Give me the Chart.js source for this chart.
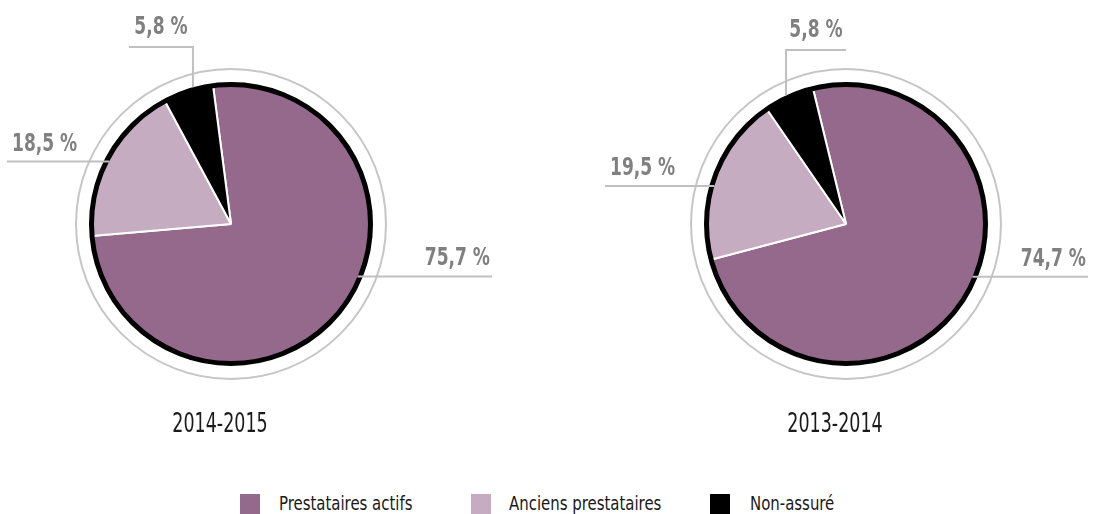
<!DOCTYPE html>
<html lang="fr">
<head>
<meta charset="utf-8">
<title>Répartition des prestataires</title>
<script src="https://cdn.jsdelivr.net/npm/chart.js@4.4.1/dist/chart.umd.min.js"></script>
<style>
  html, body { margin: 0; padding: 0; background: #fff; }
  body { width: 1097px; height: 514px; position: relative; overflow: hidden;
         font-family: 'DejaVu Sans Condensed', 'Liberation Sans', sans-serif; }
  #left-wrap  { position: absolute; left: 0;   top: 0; width: 548px; height: 448px; }
  #right-wrap { position: absolute; left: 548px; top: 0; width: 549px; height: 448px; }
  .swatch { position: absolute; top: 494px; width: 20px; height: 20px; }
  .legend-text { position: absolute; top: 491px; font-size: 20px; line-height: 24px; color: #1a1a1a;
                 white-space: nowrap; transform: scaleX(0.83); transform-origin: left center; }
</style>
</head>
<body>
<div id="left-wrap"><canvas id="chart2015"></canvas></div>
<div id="right-wrap"><canvas id="chart2014"></canvas></div>
<div id="legend"></div>

<script>
// Categories and values (percentages)
const categories = ['Prestataires actifs', 'Anciens prestataires', 'Non-assuré'];
const periods = ['2014-2015', '2013-2014'];
const values2015 = [75.7, 18.5, 5.8];
const values2014 = [74.7, 19.5, 5.8];

const sliceColors = ['#95698c', '#c5acc1', '#000000'];
const labelFont = 'bold 25px "DejaVu Sans Condensed", "Liberation Sans", sans-serif';
const titleFont = '27px "DejaVu Sans Condensed", "Liberation Sans", sans-serif';

function formatPct(v) {
  return v.toFixed(1).replace('.', ',') + ' %';
}

// Leader line settings per slice: where on the slice the line leaves the pie,
// and how far it runs from the pie centre
const leaders2015 = [
  { frac: 0.44, type: 'h', endDx: 261 },
  { frac: 0.48, type: 'h', endDx: -224 },
  { frac: 0.61, type: 'v', lineDy: -177, endDx: -102 }
];
const leaders2014 = [
  { frac: 0.47, type: 'h', endDx: 242 },
  { frac: 0.44, type: 'h', endDx: -241 },
  { frac: 0.46, type: 'v', lineDy: -174, endDx: 0 }
];

// text squeezed horizontally, the fonts at hand are wider than the design font
function narrowText(ctx, text, x, y, align, sx) {
  ctx.save();
  ctx.translate(x, y);
  ctx.scale(sx, 1);
  ctx.textAlign = align;
  ctx.fillText(text, 0, 0);
  ctx.restore();
}

// Draws the outer rings, the leader lines, value labels and the period title
const decorPlugin = {
  id: 'decor',
  afterDatasetsDraw(chart, args, opts) {
    const ctx = chart.ctx;
    const meta = chart.getDatasetMeta(0);
    const first = meta.data[0];
    const cx = first.x, cy = first.y, r = first.outerRadius;

    ctx.save();
    // thin grey ring
    ctx.beginPath();
    ctx.arc(cx, cy, r + 15, 0, Math.PI * 2);
    ctx.strokeStyle = '#c6c6c6';
    ctx.lineWidth = 2;
    ctx.stroke();

    // black outline
    ctx.beginPath();
    ctx.arc(cx, cy, r - 0.5, 0, Math.PI * 2);
    ctx.strokeStyle = '#000';
    ctx.lineWidth = 5;
    ctx.stroke();

    // leader lines + labels
    const values = chart.data.datasets[0].data;
    ctx.strokeStyle = '#c0c0c0';
    ctx.lineWidth = 2;
    ctx.fillStyle = '#808080';
    ctx.font = labelFont;
    ctx.textBaseline = 'alphabetic';
    opts.leaders.forEach((ld, i) => {
      const arc = meta.data[i];
      const a = arc.startAngle + ld.frac * (arc.endAngle - arc.startAngle);
      const text = formatPct(values[i]);
      ctx.beginPath();
      if (ld.type === 'h') {
        const ax = cx + (r - 3) * Math.cos(a);
        const ay = cy + (r - 3) * Math.sin(a);
        const ex = cx + ld.endDx;
        ctx.moveTo(ax, ay);
        ctx.lineTo(ex, ay);
        ctx.stroke();
        if (ld.endDx > 0) {
          narrowText(ctx, text, ex - 2, ay - 11, 'right', 0.76);
        } else {
          narrowText(ctx, text, ex + 5, ay - 11, 'left', 0.76);
        }
      } else {
        const ax = cx + (r + 2) * Math.cos(a);
        const ay = cy + (r + 2) * Math.sin(a);
        const ly = cy + ld.lineDy;
        const ex = cx + ld.endDx;
        ctx.moveTo(ax, ay);
        ctx.lineTo(ax, ly);
        ctx.lineTo(ex, ly);
        ctx.stroke();
        narrowText(ctx, text, (ax + ex) / 2, ly - 13, 'center', 0.76);
      }
    });

    // period title under the pie
    ctx.fillStyle = '#1a1a1a';
    ctx.font = titleFont;
    ctx.textBaseline = 'middle';
    narrowText(ctx, opts.title, cx - 11, cy + 201, 'center', 0.72);
    ctx.restore();
  }
};

function makePie(canvasId, values, rotation, leaders, title, padding) {
  const ctx = document.getElementById(canvasId).getContext('2d');
  return new Chart(ctx, {
    type: 'pie',
    data: {
      labels: categories,
      datasets: [{
        data: values,
        backgroundColor: sliceColors,
        borderColor: '#ffffff',
        borderWidth: 2
      }]
    },
    options: {
      responsive: true,
      maintainAspectRatio: false,
      animation: false,
      rotation: rotation,
      radius: 140,
      layout: { padding: padding },
      plugins: {
        legend: { display: false },
        tooltip: { enabled: false },
        decor: { leaders: leaders, title: title }
      }
    },
    plugins: [decorPlugin]
  });
}

makePie('chart2015', values2015, -7.4, leaders2015, periods[0], { right: 86 });
makePie('chart2014', values2014, -13.7, leaders2014, periods[1], { left: 47 });

// Shared legend under both pies
const legendSwatchX = [240, 471, 710];
const legendTextX = [279, 509, 750];
const legend = document.getElementById('legend');
categories.forEach((name, i) => {
  const sw = document.createElement('div');
  sw.className = 'swatch';
  sw.style.left = legendSwatchX[i] + 'px';
  sw.style.background = sliceColors[i];
  legend.appendChild(sw);
  const txt = document.createElement('div');
  txt.className = 'legend-text';
  txt.style.left = legendTextX[i] + 'px';
  txt.textContent = name;
  legend.appendChild(txt);
});
</script>
</body>
</html>
